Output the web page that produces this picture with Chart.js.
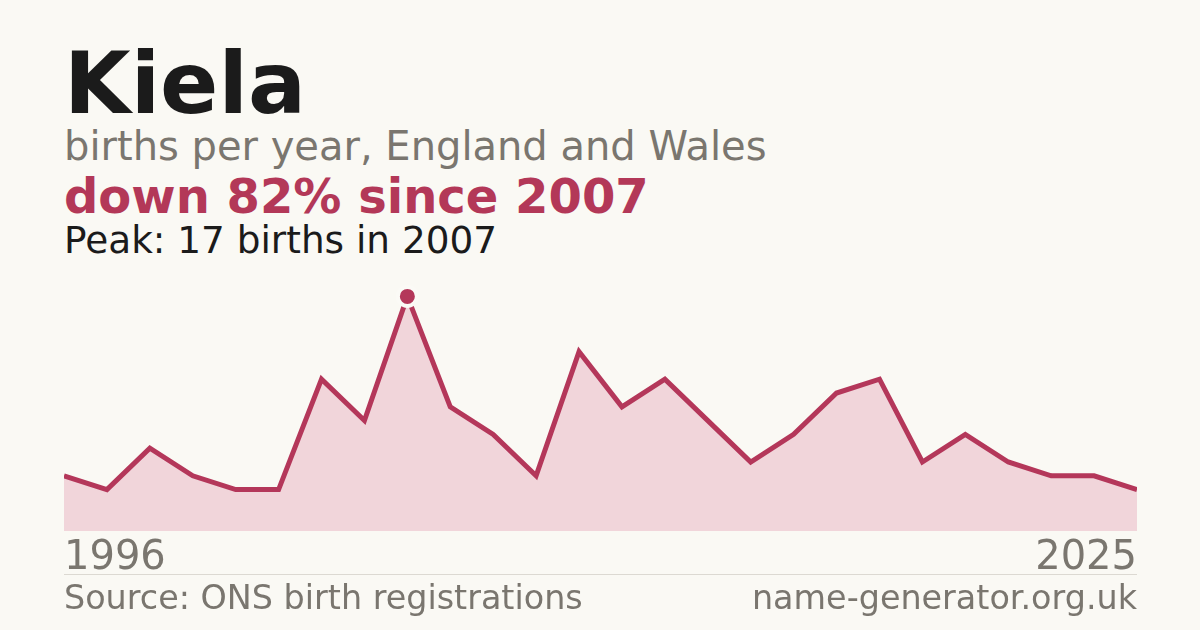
<!DOCTYPE html>
<html>
<head>
<meta charset="utf-8">
<script src="https://cdn.jsdelivr.net/npm/chart.js@4/dist/chart.umd.min.js"></script>
<style>
  html, body { margin: 0; padding: 0; }
  body {
    width: 1200px; height: 630px; overflow: hidden;
    background: #faf9f4;
    font-family: "DejaVu Sans", sans-serif;
    position: relative;
  }
  .txt { position: absolute; left: 64px; line-height: 1; white-space: nowrap; }
  #title { top: 40px; font-size: 86px; font-weight: bold; color: #1b1b1b; }
  #sub { top: 126px; font-size: 40px; color: #7a766f; }
  #change { top: 172px; font-size: 48px; font-weight: bold; color: #b33858; }
  #peak { top: 222px; font-size: 37.4px; color: #1b1b1b; }
  #rule { position: absolute; left: 64px; width: 1073px; top: 574px; height: 1px; background: #dcd9d2; }
  .foot { position: absolute; top: 581px; font-size: 33.4px; line-height: 1; color: #7a766f; white-space: nowrap; }
  #source { left: 64px; }
  #site { right: 63px; }
  #wrap { position: absolute; left: 64px; top: 255px; width: 1073px; height: 324px; }
</style>
</head>
<body>
<div id="title" class="txt">Kiela</div>
<div id="sub" class="txt">births per year, England and Wales</div>
<div id="change" class="txt">down 82% since 2007</div>
<div id="peak" class="txt">Peak: 17 births in 2007</div>
<div id="wrap"><canvas id="chart"></canvas></div>
<div id="rule"></div>
<div id="source" class="foot">Source: ONS birth registrations</div>
<div id="site" class="foot">name-generator.org.uk</div>

<script>
// Data
let years = [1996, 1997, 1999, 2000, 2002, 2003, 2004, 2006, 2007, 2008,
  2009, 2010, 2011, 2012, 2013, 2014, 2015, 2017, 2018, 2019,
  2020, 2021, 2022, 2023, 2024, 2025];
let births = [4, 3, 6, 4, 3, 3, 11, 8, 17, 9,
  7, 4, 13, 9, 11, 8, 5, 7, 10, 11,
  5, 7, 5, 4, 4, 3];
let peakYear = 2007;

// Colours
let red = '#b4375a';
let fill = '#f1d5da';
let grey = '#7a766f';

let peakIndex = years.indexOf(peakYear);

let ctx = document.getElementById('chart');

new Chart(ctx, {
  type: 'line',
  data: {
    labels: years,
    datasets: [{
      data: births,
      borderColor: red,
      borderWidth: 5,
      backgroundColor: fill,
      fill: 'origin',
      tension: 0,
      // only the peak gets a dot, with a ring cut out of the line
      pointRadius: births.map((v, i) => i === peakIndex ? 9.5 : 0),
      pointBackgroundColor: red,
      pointBorderColor: '#fbfaf6',
      pointBorderWidth: 4
    }]
  },
  options: {
    responsive: true,
    maintainAspectRatio: false,
    animation: false,
    layout: { padding: 0 },
    plugins: {
      legend: { display: false },
      tooltip: { enabled: false }
    },
    scales: {
      x: {
        border: { display: false },
        // ticks are not drawn, tickLength only makes the gap under the area
        grid: { display: false, drawTicks: true, tickLength: 8 },
        ticks: {
          autoSkip: false,
          maxRotation: 0,
          align: 'inner',
          padding: 0,
          color: grey,
          font: { family: 'DejaVu Sans', size: 40, lineHeight: 1 },
          callback: function(val, i) {
            return (i === 0 || i === years.length - 1) ? years[i] : '';
          }
        }
      },
      y: {
        display: false,
        min: 0,
        max: 20
      }
    }
  }
});
</script>
</body>
</html>
